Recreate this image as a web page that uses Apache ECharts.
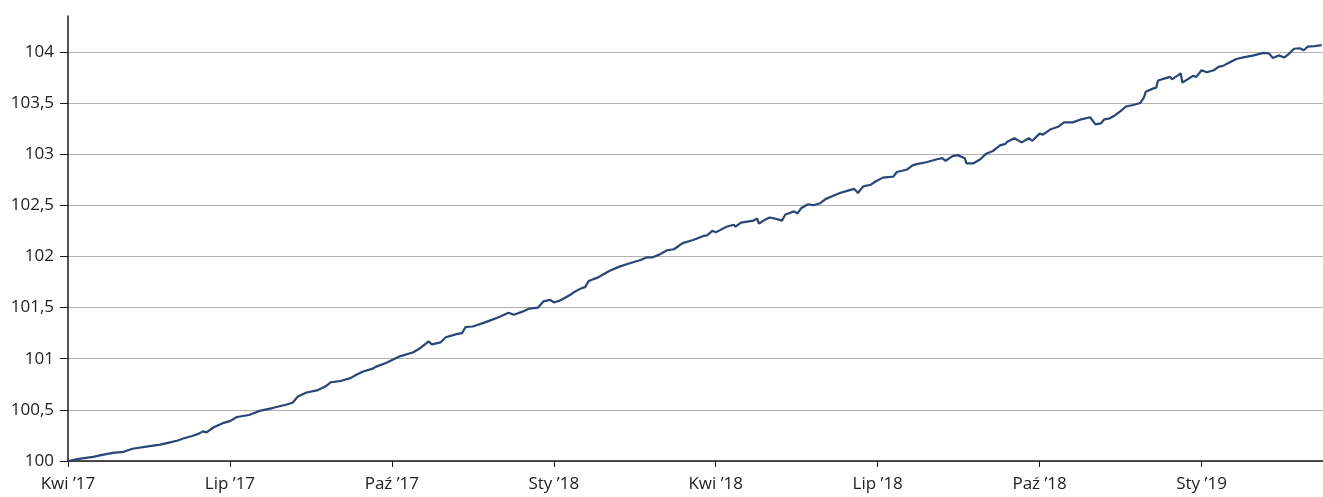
<!DOCTYPE html>
<html>
<head>
<meta charset="utf-8">
<script src="https://cdn.jsdelivr.net/npm/echarts@6/dist/echarts.min.js"></script>
<style>
html,body{margin:0;padding:0;background:#fff;}
#chart{width:1323px;height:497px;}
</style>
</head>
<body>
<div id="chart"></div>
<script>
// Dates of the readings
const dates = [
'2017-04-01','2017-04-07','2017-04-15','2017-04-20','2017-04-26',
'2017-05-02','2017-05-07','2017-05-15','2017-05-23','2017-05-28',
'2017-06-02','2017-06-05','2017-06-10','2017-06-14','2017-06-16','2017-06-18','2017-06-22','2017-06-27',
'2017-07-01','2017-07-05','2017-07-12','2017-07-18','2017-07-26',
'2017-08-02','2017-08-06','2017-08-09','2017-08-14','2017-08-20','2017-08-25','2017-08-28',
'2017-09-02','2017-09-08','2017-09-11','2017-09-15','2017-09-20','2017-09-22','2017-09-28',
'2017-10-05','2017-10-13','2017-10-17','2017-10-20','2017-10-22','2017-10-24','2017-10-29',
'2017-11-01','2017-11-07','2017-11-10','2017-11-12','2017-11-16','2017-11-22','2017-11-25',
'2017-12-01','2017-12-06','2017-12-09','2017-12-14','2017-12-18','2017-12-23','2017-12-26','2017-12-30',
'2018-01-01','2018-01-04','2018-01-08','2018-01-11','2018-01-13','2018-01-17','2018-01-19','2018-01-21','2018-01-24','2018-01-26','2018-01-29',
'2018-02-02','2018-02-07','2018-02-12','2018-02-18','2018-02-21','2018-02-24','2018-02-28',
'2018-03-04','2018-03-08','2018-03-13','2018-03-19','2018-03-25','2018-03-27','2018-03-30',
'2018-04-01','2018-04-07','2018-04-11','2018-04-12','2018-04-15','2018-04-22','2018-04-24','2018-04-25','2018-04-28',
'2018-05-01','2018-05-04','2018-05-08','2018-05-10','2018-05-15','2018-05-17','2018-05-19','2018-05-23','2018-05-26','2018-05-30',
'2018-06-02','2018-06-06','2018-06-10','2018-06-14','2018-06-15','2018-06-18','2018-06-20','2018-06-23','2018-06-27','2018-06-30',
'2018-07-04','2018-07-10','2018-07-12','2018-07-18','2018-07-21','2018-07-24','2018-07-29',
'2018-08-04','2018-08-07','2018-08-09','2018-08-13','2018-08-16','2018-08-20','2018-08-21','2018-08-25','2018-08-29',
'2018-09-01','2018-09-05','2018-09-09','2018-09-12','2018-09-13','2018-09-17','2018-09-21','2018-09-25','2018-09-27',
'2018-10-01','2018-10-03','2018-10-07','2018-10-12','2018-10-13','2018-10-15','2018-10-20','2018-10-25','2018-10-30','2018-10-31',
'2018-11-02','2018-11-05','2018-11-07','2018-11-10','2018-11-13','2018-11-16','2018-11-19','2018-11-23','2018-11-27','2018-11-29','2018-11-30',
'2018-12-04','2018-12-06','2018-12-07','2018-12-11','2018-12-14','2018-12-15','2018-12-18','2018-12-20','2018-12-21','2018-12-24','2018-12-27','2018-12-29',
'2019-01-01','2019-01-04','2019-01-08','2019-01-11','2019-01-13','2019-01-17','2019-01-21','2019-01-25','2019-01-31',
'2019-02-05','2019-02-08','2019-02-10','2019-02-13','2019-02-16','2019-02-18','2019-02-21','2019-02-24','2019-02-26','2019-02-28',
'2019-03-04','2019-03-08'
];

// Index values
const values = [
100.00,100.02,100.04,100.06,100.08,
100.09,100.12,100.14,100.16,100.18,
100.20,100.22,100.245,100.27,100.29,100.28,100.33,100.37,
100.39,100.43,100.45,100.49,100.52,
100.55,100.57,100.63,100.67,100.69,100.73,100.77,
100.78,100.81,100.84,100.875,100.90,100.92,100.96,
101.02,101.06,101.10,101.14,101.17,101.14,101.16,
101.21,101.24,101.25,101.31,101.315,101.35,101.37,
101.41,101.45,101.43,101.46,101.49,101.50,101.56,101.575,
101.55,101.565,101.60,101.63,101.655,101.69,101.70,101.76,101.78,101.79,101.82,
101.86,101.90,101.93,101.965,101.99,101.99,102.02,
102.06,102.07,102.13,102.16,102.20,102.205,102.25,
102.235,102.29,102.31,102.29,102.33,102.35,102.37,102.32,102.355,
102.38,102.37,102.35,102.41,102.44,102.42,102.47,102.51,102.50,102.52,
102.56,102.59,102.62,102.64,102.63,102.66,102.62,102.685,102.70,102.735,
102.77,102.78,102.825,102.85,102.89,102.905,102.92,
102.95,102.96,102.935,102.98,102.99,102.96,102.91,102.91,102.95,
103.00,103.03,103.085,103.10,103.12,103.155,103.115,103.155,103.13,
103.20,103.19,103.24,103.27,103.26,103.31,103.31,103.34,103.36,103.37,
103.29,103.30,103.34,103.35,103.38,103.42,103.465,103.48,103.50,103.555,103.61,
103.64,103.65,103.72,103.74,103.755,103.73,103.765,103.79,103.70,103.73,103.765,103.755,
103.82,103.80,103.82,103.855,103.86,103.895,103.93,103.945,103.965,
103.99,103.985,103.94,103.965,103.945,103.975,104.03,104.035,104.015,104.05,
104.055,104.065
];

// Quarter tick labels (every 3 months from April 2017)
const tickLabels = ['Kwi ’17','Lip ’17','Paź ’17','Sty ’18','Kwi ’18','Lip ’18','Paź ’18','Sty ’19'];
const yTicks = [100,100.5,101,101.5,102,102.5,103,103.5,104];

// Month index (0 = April 2017) so quarters are equally spaced as in the original
function monthIndex(s){
  const [y,m,d] = s.split('-').map(Number);
  const dim = new Date(y, m, 0).getDate();
  return (y-2017)*12 + (m-4) + (d-1)/dim;
}
const seriesData = dates.map((d,i)=>[monthIndex(d), values[i]]);
const xTickValues = tickLabels.map((_,i)=>i*3);

const chart = echarts.init(document.getElementById('chart'), null, {renderer:'canvas'});
const font = '"Open Sans", "Noto Sans", sans-serif';
chart.setOption({
  animation:false,
  backgroundColor:'#ffffff',
  grid:{left:68, right:0, top:16, bottom:36, containLabel:false},
  xAxis:{
    type:'value', min:0, max:23.25,
    axisLine:{show:true, onZero:false, lineStyle:{color:'#1a1a1a', width:1.5}},
    axisTick:{show:true, length:6, customValues:xTickValues, lineStyle:{color:'#1a1a1a', width:1}},
    axisLabel:{customValues:xTickValues, margin:15, fontSize:17, color:'#222', fontFamily:font,
      formatter:function(v){ const i=Math.round(v/3); return tickLabels[i]||''; }},
    splitLine:{show:false}
  },
  yAxis:{
    type:'value', min:100, max:104.35,
    axisLine:{show:true, lineStyle:{color:'#1a1a1a', width:1.5}},
    axisTick:{show:true, length:8, customValues:yTicks, lineStyle:{color:'#1a1a1a', width:1}},
    axisLabel:{customValues:yTicks, margin:14, fontSize:17, color:'#222', fontFamily:font,
      formatter:function(v){ return String(Math.round(v*10)/10).replace('.',','); }},
    splitLine:{show:true, lineStyle:{color:'#b0b0b0', width:1.2}}
  },
  series:[{
    type:'line', data:seriesData, showSymbol:false, symbol:'none',
    lineStyle:{color:'#2a4677', width:2.2}, z:5
  }]
});
</script>
</body>
</html>
